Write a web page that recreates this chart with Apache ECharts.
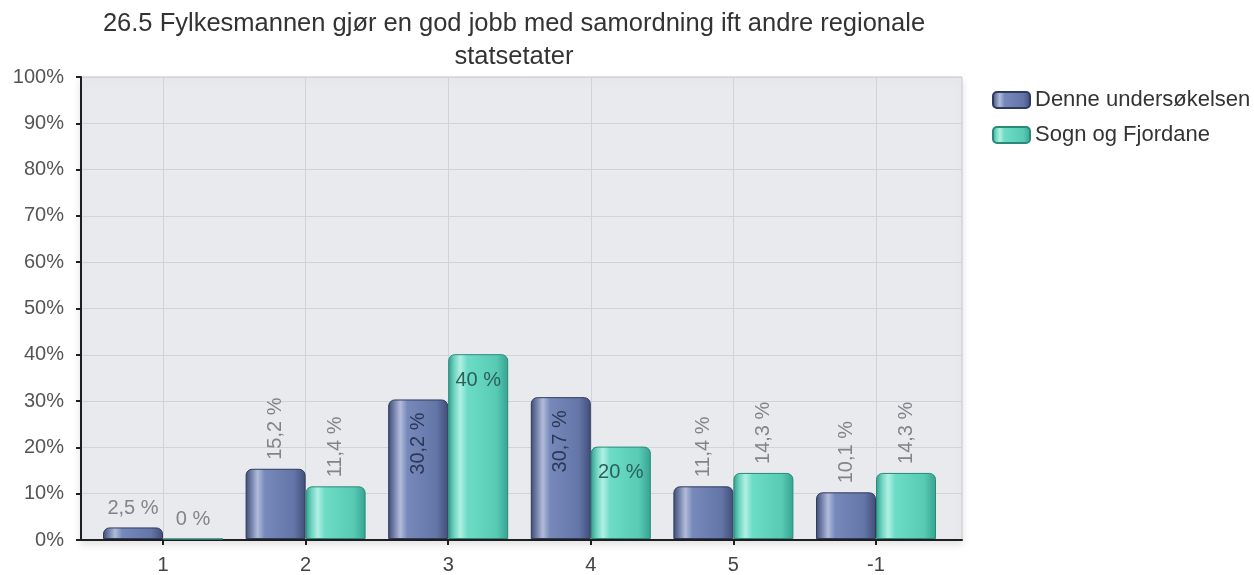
<!DOCTYPE html>
<html>
<head>
<meta charset="utf-8">
<script src="https://cdn.jsdelivr.net/npm/echarts@6/dist/echarts.min.js"></script>
<style>
  html, body { margin: 0; padding: 0; background: #ffffff; }
  #chart { width: 1254px; height: 575px; }
</style>
</head>
<body>
<div id="chart"></div>
<script>
// Survey answers: share of respondents per answer option
const categories = ['1', '2', '3', '4', '5', '-1'];
const seriesNames = ['Denne undersøkelsen', 'Sogn og Fjordane'];
const surveyValues = [2.5, 15.2, 30.2, 30.7, 11.4, 10.1];
const countyValues = [0, 11.4, 40, 20, 14.3, 14.3];
const yTicks = [0, 10, 20, 30, 40, 50, 60, 70, 80, 90, 100];

// How each value label is placed on its bar
const surveyLabelModes = ['above', 'vabove', 'vinside', 'vinside', 'vabove', 'vabove'];
const countyLabelModes = ['above', 'vabove', 'hinside', 'hinside', 'vabove', 'vabove'];

const FONT = '"Liberation Sans", Arial, Helvetica, sans-serif';

function pct(v) {
  return String(v).replace('.', ',') + ' %';
}

function labelFor(mode, insideColor) {
  const base = { show: true, fontFamily: FONT, fontSize: 20, formatter: p => pct(p.value) };
  if (mode === 'above') {
    return Object.assign(base, { position: 'top', distance: 9, color: '#80858b' });
  }
  if (mode === 'vabove') {
    return Object.assign(base, { position: 'top', distance: 9, rotate: 90, align: 'left', verticalAlign: 'middle', color: '#80858b' });
  }
  if (mode === 'vinside') {
    return Object.assign(base, { position: 'insideTop', distance: 13, rotate: 90, align: 'right', verticalAlign: 'middle', color: insideColor });
  }
  return Object.assign(base, { position: 'insideTop', distance: 16, color: insideColor });
}

function grad(stops) {
  return new echarts.graphic.LinearGradient(0, 0, 1, 0, stops.map(c => ({ offset: c[0], color: c[1] })));
}

const blueFill = grad([[0, '#3f4a72'], [0.1, '#7482ab'], [0.2, '#b2bcda'], [0.32, '#7789bb'], [0.8, '#6476a8'], [1, '#414d77']]);
const tealFill = grad([[0, '#2f9c8a'], [0.1, '#6fd4c1'], [0.2, '#b0f0e3'], [0.32, '#6cdcc6'], [0.8, '#58cbb5'], [1, '#35a391']]);

function buildData(values, modes, insideColor) {
  return values.map((v, i) => ({ value: v, label: labelFor(modes[i], insideColor) }));
}

const chart = echarts.init(document.getElementById('chart'), null, { renderer: 'canvas' });

chart.setOption({
  animation: false,
  backgroundColor: '#ffffff',
  textStyle: { fontFamily: FONT },
  title: {
    text: '26.5 Fylkesmannen gjør en god jobb med samordning ift andre regionale\nstatsetater',
    left: 509,
    top: 2,
    textAlign: 'center',
    textStyle: { fontFamily: FONT, fontSize: 25.5, fontWeight: 'normal', color: '#333333', lineHeight: 33 }
  },
  legend: {
    orient: 'vertical',
    left: 987,
    top: 84,
    itemWidth: 37,
    itemHeight: 16,
    itemGap: 13,
    icon: 'roundRect',
    textStyle: { fontFamily: FONT, fontSize: 22, color: '#333333' },
    data: seriesNames
  },
  grid: [
    {
      left: 81, top: 77, width: 881, height: 463,
      show: true, backgroundColor: '#e8eaee', borderColor: '#c6c9ce', borderWidth: 1,
      shadowColor: 'rgba(0,0,0,0.12)', shadowBlur: 8, shadowOffsetY: 4
    },
    { left: 163, top: 77, width: 713, height: 463 }
  ],
  xAxis: [
    {
      gridIndex: 0, type: 'value', min: 0, max: 1, position: 'bottom',
      axisLine: { show: true, lineStyle: { color: '#1e1e1e', width: 2 } },
      axisTick: { show: false }, axisLabel: { show: false }, splitLine: { show: false }
    },
    {
      gridIndex: 1, type: 'category', data: categories, boundaryGap: false,
      axisLine: { show: false },
      axisTick: { show: true, inside: false, length: 6, lineStyle: { color: '#1e1e1e', width: 2 } },
      axisLabel: { fontFamily: FONT, fontSize: 20, color: '#444444', margin: 16 },
      splitLine: { show: true, lineStyle: { color: '#d0d3d7', width: 1 } }
    }
  ],
  yAxis: [
    {
      gridIndex: 0, type: 'value', min: yTicks[0], max: yTicks[yTicks.length - 1], interval: yTicks[1] - yTicks[0],
      axisLine: { show: true, lineStyle: { color: '#1e1e1e', width: 2 } },
      axisTick: { show: true, length: 5, lineStyle: { color: '#1e1e1e', width: 2 } },
      axisLabel: { fontFamily: FONT, fontSize: 20, color: '#555555', margin: 17, formatter: '{value}%' },
      splitLine: { show: true, lineStyle: { color: '#d0d3d7', width: 1 } }
    },
    { gridIndex: 1, type: 'value', min: 0, max: 100, show: false }
  ],
  series: [
    {
      name: seriesNames[0], type: 'bar', xAxisIndex: 1, yAxisIndex: 1,
      barWidth: 60, barGap: '0%', clip: false,
      itemStyle: { color: blueFill, borderColor: '#2f3a5e', borderWidth: 1, borderRadius: [6, 6, 0, 0] },
      data: buildData(surveyValues, surveyLabelModes, '#2c3757')
    },
    {
      name: seriesNames[1], type: 'bar', xAxisIndex: 1, yAxisIndex: 1,
      barWidth: 60, barGap: '0%', clip: false,
      itemStyle: { color: tealFill, borderColor: '#2a8a7a', borderWidth: 1, borderRadius: [6, 6, 0, 0] },
      data: buildData(countyValues, countyLabelModes, '#2b5f58')
    }
  ]
});
</script>
</body>
</html>
